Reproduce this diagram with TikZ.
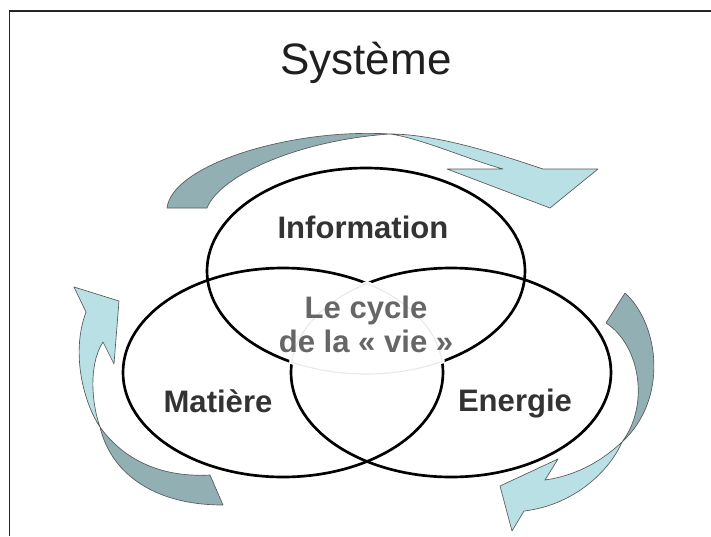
\documentclass[tikz,border=0pt]{standalone}
\usepackage{fontspec}
\setmainfont{Liberation Sans}
\usetikzlibrary{shapes.geometric}

\definecolor{backC}{RGB}{146,176,180}
\definecolor{frontC}{RGB}{185,224,228}
\definecolor{textC}{RGB}{51,51,51}
\definecolor{coreC}{RGB}{102,102,102}

\tikzstyle{circleS} = [draw, ellipse, line width=2pt, inner sep=0pt]
\tikzstyle{faintS} = [draw=black!9, line width=0.8pt]
\tikzstyle{textS} = [anchor=base, inner sep=0pt, text=textC, font=\fontsize{23.3}{28}\selectfont\bfseries]
\tikzstyle{backS} = [fill=backC, draw=black!65, line width=0.5pt, line join=round]
\tikzstyle{frontS} = [fill=frontC, draw=black!65, line width=0.5pt, line join=round]

\begin{document}
\begin{tikzpicture}[x=0.75pt, y=-0.75pt]
  \useasboundingbox (0,0) rectangle (711,536);
  \draw[black!85, line width=0.8pt] (9.5,536) -- (9.5,11) -- (711,11);

  \node[anchor=base, inner sep=0pt, text=black!88, font=\fontsize{33}{40}\selectfont] (title) at (366,74) {Système};

  % the three circles
  \node[circleS, minimum width=238.5pt, minimum height=154.5pt] (info) at (366,271) {};
  \node[circleS, minimum width=240pt, minimum height=156.75pt] (mat) at (283,372.5) {};
  \node[circleS, minimum width=240pt, minimum height=156.75pt] (ener) at (451,372.5) {};

  % white heart where all three meet
  \begin{scope}
    \clip (283,372.5) ellipse [x radius=162.5, y radius=107];
    \clip (451,372.5) ellipse [x radius=162.5, y radius=107];
    \fill[white, draw=white, line width=3.2pt] (366,271) ellipse [x radius=159, y radius=103];
  \end{scope}
  \begin{scope}
    \clip (283,372.5) ellipse [x radius=160, y radius=104.5];
    \clip (451,372.5) ellipse [x radius=160, y radius=104.5];
    \draw[faintS] (366,271) ellipse [x radius=159, y radius=103];
  \end{scope}
  \begin{scope}
    \clip (366,271) ellipse [x radius=159, y radius=103];
    \clip (451,372.5) ellipse [x radius=160, y radius=104.5];
    \draw[faintS] (283,372.5) ellipse [x radius=160, y radius=104.5];
  \end{scope}
  \begin{scope}
    \clip (366,271) ellipse [x radius=159, y radius=103];
    \clip (283,372.5) ellipse [x radius=160, y radius=104.5];
    \draw[faintS] (451,372.5) ellipse [x radius=160, y radius=104.5];
  \end{scope}

  \node[textS] (infoT) at (363,238) {Information};
  \node[textS] (matT) at (218,412) {Matière};
  \node[textS] (enerT) at (515,411) {Energie};
  \node[textS, text=coreC] (coreA) at (366,318) {Le cycle};
  \node[textS, text=coreC] (coreB) at (366,352) {de la « vie »};

  % top arrow
  \draw[backS] (167,208) .. controls (172,165) and (290,128) .. (390,134)
    .. controls (300,140) and (220,175) .. (207,208) -- cycle;
  \draw[frontS] (390,134) .. controls (440,134) and (510,158) .. (543,169)
    -- (598,169) -- (550,208) -- (447,169) -- (503,169)
    .. controls (470,160) and (420,138) .. (390,134) -- cycle;

  % right arrow
  \draw[backS] (625,293) .. controls (660,325) and (668,400) .. (622,442)
    .. controls (650,405) and (640,345) .. (606,323) -- cycle;
  \draw[frontS] (622,442) .. controls (610,470) and (575,505) .. (524,511)
    -- (512,531) -- (500,486) -- (558,459) -- (545,480)
    .. controls (580,475) and (605,458) .. (622,442) -- cycle;

  % left arrow
  \draw[backS] (223,505) .. controls (150,505) and (110,470) .. (100,427)
    .. controls (120,455) and (155,478) .. (210,475) -- cycle;
  \draw[frontS] (100,427) .. controls (85,405) and (70,355) .. (86,312)
    -- (74,287) -- (119,301) -- (114,364) -- (103,342)
    .. controls (88,365) and (92,405) .. (100,427) -- cycle;
\end{tikzpicture}
\end{document}
